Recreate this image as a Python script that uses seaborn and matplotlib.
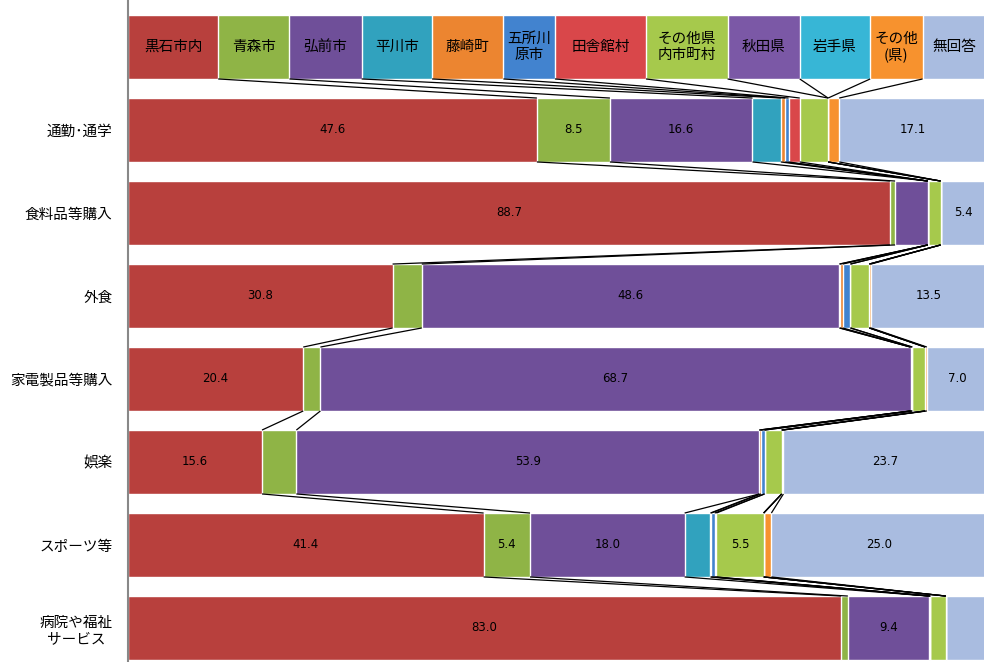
import numpy as np
import pandas as pd
import matplotlib
matplotlib.use('Agg')
import matplotlib.pyplot as plt
import seaborn as sns

sns.set_style('white')
plt.rcParams['font.family'] = ['Noto Sans CJK JP', 'DejaVu Sans']
plt.rcParams['text.color'] = 'black'
plt.rcParams['ytick.color'] = 'black'

# destinations (stack order) and header captions
places = ['黒石市内', '青森市', '弘前市', '平川市', '藤崎町', '五所川原市',
          '田舎館村', 'その他県内市町村', '秋田県', '岩手県', 'その他(県)', '無回答']
header_text = ['黒石市内', '青森市', '弘前市', '平川市', '藤崎町', '五所川\n原市',
               '田舎館村', 'その他県\n内市町村', '秋田県', '岩手県', 'その他\n(県)', '無回答']
colors = ['#B8403D', '#8FB446', '#6F4F99', '#31A2BE', '#EC8530', '#4283CF',
          '#D9474A', '#A6C94C', '#7B58A6', '#37B6D6', '#F7922E', '#A9BCE0']

purposes = ['', '通勤･通学', '食料品等購入', '外食', '家電製品等購入', '娯楽',
            'スポーツ等', '病院や福祉\nサービス']

# header row (legend-like bar), then % per purpose
header = [10.5, 8.3, 8.4, 8.2, 8.3, 6.0, 10.6, 9.5, 8.4, 8.2, 6.1, 7.5]
commute = [47.6, 8.5, 16.6, 3.3, 0.5, 0.4, 1.3, 3.3, 0.0, 0.0, 1.3, 17.1]
food = [88.7, 0.6, 3.8, 0.0, 0.0, 0.0, 0.0, 1.5, 0.0, 0.0, 0.0, 5.4]
eating_out = [30.8, 3.4, 48.6, 0.1, 0.3, 0.9, 0.0, 2.2, 0.0, 0.0, 0.2, 13.5]
appliances = [20.4, 2.0, 68.7, 0.0, 0.0, 0.2, 0.0, 1.5, 0.0, 0.0, 0.2, 7.0]
leisure = [15.6, 4.0, 53.9, 0.0, 0.2, 0.4, 0.0, 2.0, 0.0, 0.0, 0.2, 23.7]
sports = [41.4, 5.4, 18.0, 3.0, 0.1, 0.4, 0.2, 5.5, 0.0, 0.0, 0.9, 25.0]
medical = [83.0, 0.8, 9.4, 0.0, 0.2, 0.0, 0.0, 1.8, 0.0, 0.0, 0.0, 4.8]

data = np.array([header, commute, food, eating_out, appliances, leisure, sports, medical])
cum = data.cumsum(axis=1)

fig = plt.figure(figsize=(9.84, 6.62), dpi=100)
ax = fig.add_axes([128 / 984, 0, 859 / 984, 1])

h = 0.77
# stacked bars: draw cumulative totals from the last segment backwards
for j in range(len(places) - 1, -1, -1):
    df = pd.DataFrame({'purpose': purposes, 'value': cum[:, j]})
    sns.barplot(data=df, x='value', y='purpose', orient='h', color=colors[j],
                width=h, saturation=1, order=purposes, ax=ax, errorbar=None)

# series lines between consecutive bars
for i in range(len(purposes) - 1):
    for j in range(len(places)):
        ax.plot([cum[i, j], cum[i + 1, j]], [i + h / 2, i + 1 - h / 2],
                color='black', lw=0.9, zorder=5, solid_capstyle='butt')

# header captions
for j in range(len(places)):
    left = cum[0, j] - data[0, j]
    ax.text(left + data[0, j] / 2, 0, header_text[j], ha='center', va='center',
            fontsize=10.5, linespacing=1.2, zorder=6, color='black')

# value labels
for i in range(1, len(purposes)):
    for j in range(len(places)):
        v = data[i, j]
        if v >= 5:
            ax.text(cum[i, j] - v / 2, i, f'{v:.1f}', ha='center', va='center',
                    fontsize=8.5, family=['DejaVu Sans'], zorder=6, color='black')

ax.set_xlim(0, 100)
ax.set_ylim(7 + 34 / 83, -47 / 83)
ax.set_xlabel('')
ax.set_ylabel('')
ax.set_xticks([])
ax.tick_params(axis='y', length=0, pad=11, labelsize=10.5)
for lab in ax.get_yticklabels():
    lab.set_multialignment('center')
for s in ['top', 'right', 'bottom']:
    ax.spines[s].set_visible(False)
ax.spines['left'].set_color('#888888')
ax.spines['left'].set_linewidth(1.5)

fig.savefig('out.png', dpi=100)
